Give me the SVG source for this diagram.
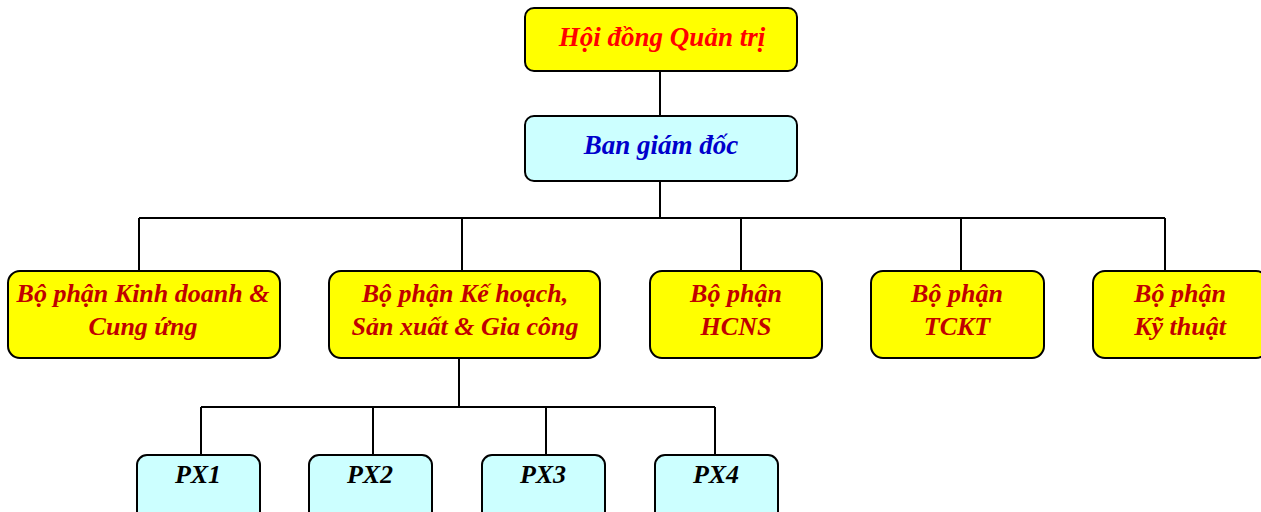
<svg xmlns="http://www.w3.org/2000/svg" width="1261" height="512" viewBox="0 0 1261 512">
<style>
.box{stroke:#000;stroke-width:2}
.y{fill:#FFFF00}
.c{fill:#CCFFFF}
text{font-family:"Liberation Serif","Times New Roman",serif;font-weight:bold;font-style:italic;text-anchor:middle}
.t0{fill:#FF0000;font-size:27px}
.t1{fill:#0000CC;font-size:27px}
.t2{fill:#C00000;font-size:26px}
.t3{fill:#000;font-size:26px}
.ln{stroke:#000;stroke-width:2;fill:none}
</style>
<rect width="1261" height="512" fill="#fff"/>
<g id="connectors">
<path class="ln" d="M660 71V116M660 181V218M139 218H1165M139 218V271M462 218V271M741 218V271M961 218V271M1165 218V271"/>
<path class="ln" d="M459 358V407M201 407H715M201 407V455M373 407V455M546 407V455M715 407V455"/>
</g>
<g id="hdqt"><rect class="box y" x="525" y="8" width="272" height="63" rx="9"/><text class="t0" x="662" y="46">Hội đồng Quản trị</text></g>
<g id="bgd"><rect class="box c" x="525" y="116" width="272" height="65" rx="9"/><text class="t1" x="661" y="154">Ban giám đốc</text></g>
<g id="kd"><rect class="box y" x="8" y="271" width="272" height="87" rx="12"/><text class="t2" x="143" y="302">Bộ phận Kinh doanh &amp;</text><text class="t2" x="143" y="335">Cung ứng</text></g>
<g id="kh"><rect class="box y" x="329" y="271" width="271" height="87" rx="12"/><text class="t2" x="465" y="302">Bộ phận Kế hoạch,</text><text class="t2" x="465" y="335">Sản xuất &amp; Gia công</text></g>
<g id="hcns"><rect class="box y" x="650" y="271" width="172" height="87" rx="12"/><text class="t2" x="736" y="302">Bộ phận</text><text class="t2" x="736" y="335">HCNS</text></g>
<g id="tckt"><rect class="box y" x="871" y="271" width="173" height="87" rx="12"/><text class="t2" x="957" y="302">Bộ phận</text><text class="t2" x="957" y="335">TCKT</text></g>
<g id="kt"><rect class="box y" x="1093" y="271" width="175" height="87" rx="12"/><text class="t2" x="1180" y="302">Bộ phận</text><text class="t2" x="1180" y="335">Kỹ thuật</text></g>
<g id="px1"><rect class="box c" x="137" y="455" width="123" height="70" rx="10"/><text class="t3" x="198" y="483">PX1</text></g>
<g id="px2"><rect class="box c" x="309" y="455" width="123" height="70" rx="10"/><text class="t3" x="370" y="483">PX2</text></g>
<g id="px3"><rect class="box c" x="482" y="455" width="123" height="70" rx="10"/><text class="t3" x="543" y="483">PX3</text></g>
<g id="px4"><rect class="box c" x="655" y="455" width="123" height="70" rx="10"/><text class="t3" x="716" y="483">PX4</text></g>
</svg>
